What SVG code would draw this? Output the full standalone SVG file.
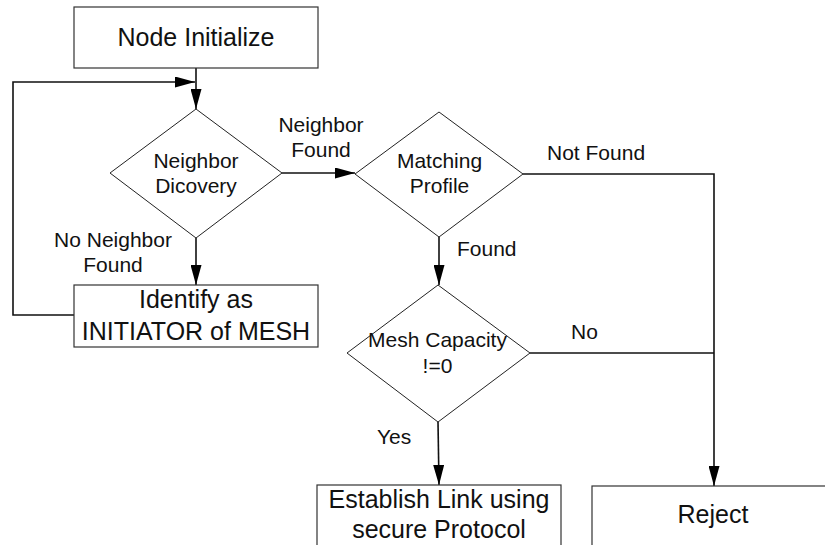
<svg xmlns="http://www.w3.org/2000/svg" width="825" height="545" viewBox="0 0 825 545">
<style>
.box{fill:#fff;stroke:#333;stroke-width:1.2}
.dia{fill:#fff;stroke:#222;stroke-width:1}
.c{fill:none;stroke:#111;stroke-width:1.6}
.bt{font-family:"Liberation Sans",Arial,sans-serif;font-size:25px;fill:#111;text-anchor:middle}
.dt{font-family:"Liberation Sans",Arial,sans-serif;font-size:21px;fill:#111;text-anchor:middle}
.lt{font-family:"Liberation Sans",Arial,sans-serif;font-size:21px;fill:#111}
</style>
<defs>
<marker id="ah" markerWidth="20" markerHeight="11" refX="20" refY="5.5" orient="auto" markerUnits="userSpaceOnUse">
<path d="M0,0 L20,5.5 L0,11 Z" fill="#000"/>
</marker>
</defs>
<rect width="825" height="545" fill="#fff"/>
<g id="connectors">
<path class="c" d="M196,68 V109" marker-end="url(#ah)"/>
<path class="c" d="M74,315 H13 V82 H195" marker-end="url(#ah)"/>
<path class="c" d="M196,238 V285" marker-end="url(#ah)"/>
<path class="c" d="M282,173 H355" marker-end="url(#ah)"/>
<path class="c" d="M523,174 H714 V486" marker-end="url(#ah)"/>
<path class="c" d="M439,237 V285" marker-end="url(#ah)"/>
<path class="c" d="M530,353 H714"/>
<path class="c" d="M438,422 L439,485" marker-end="url(#ah)"/>
</g>
<g id="labels">
<text class="dt" x="321" y="132">Neighbor</text>
<text class="dt" x="321" y="157">Found</text>
<text class="dt" x="113" y="247">No Neighbor</text>
<text class="dt" x="113" y="272">Found</text>
<text class="lt" x="547" y="160">Not Found</text>
<text class="lt" x="457" y="256">Found</text>
<text class="lt" x="571" y="339">No</text>
<text class="lt" x="377" y="444">Yes</text>
</g>
<g id="node-initialize">
<rect class="box" x="74" y="7" width="244" height="61"/>
<text class="bt" x="196" y="46">Node Initialize</text>
</g>
<g id="neighbor-discovery">
<polygon class="dia" points="196,109 282,173 196,238 110,173"/>
<text class="dt" x="196" y="168">Neighbor</text>
<text class="dt" x="196" y="193">Dicovery</text>
</g>
<g id="identify-initiator">
<rect class="box" x="74" y="285" width="244" height="62"/>
<text class="bt" x="196" y="308">Identify as</text>
<text class="bt" x="196" y="340">INITIATOR of MESH</text>
</g>
<g id="matching-profile">
<polygon class="dia" points="439,112 523,174 439,237 355,174"/>
<text class="dt" x="439.5" y="168">Matching</text>
<text class="dt" x="439.5" y="193">Profile</text>
</g>
<g id="mesh-capacity">
<polygon class="dia" points="438,285 530,353 438,422 347,353"/>
<text class="dt" x="437.5" y="347">Mesh Capacity</text>
<text class="dt" x="437.5" y="373">!=0</text>
</g>
<g id="establish-link">
<rect class="box" x="317" y="485" width="244" height="80"/>
<text class="bt" x="439" y="508">Establish Link using</text>
<text class="bt" x="439" y="538">secure Protocol</text>
</g>
<g id="reject">
<rect class="box" x="592" y="486" width="260" height="80"/>
<text class="bt" x="713" y="523">Reject</text>
</g>
</svg>
